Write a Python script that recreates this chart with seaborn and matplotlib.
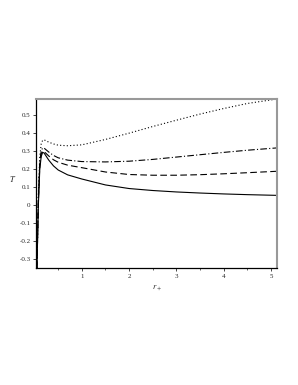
import numpy as np
import pandas as pd
import seaborn as sns
import matplotlib.pyplot as plt

# values
r_plus = [0.05, 0.08, 0.11, 0.14, 0.17, 0.2, 0.3, 0.4, 0.5, 0.7, 1.0, 1.5, 2.0, 2.5, 3.0, 3.5, 4.0, 4.5, 5.13]
T_solid = [-0.35, 0.0, 0.2, 0.27, 0.293, 0.29, 0.25, 0.218, 0.195, 0.168, 0.145, 0.112, 0.092, 0.081, 0.073, 0.067, 0.062, 0.058, 0.054]
T_dash = [-0.35, 0.02, 0.22, 0.285, 0.3, 0.298, 0.273, 0.252, 0.238, 0.222, 0.208, 0.184, 0.17, 0.166, 0.166, 0.169, 0.174, 0.18, 0.188]
T_dashdot = [-0.35, 0.04, 0.24, 0.3, 0.318, 0.317, 0.295, 0.276, 0.263, 0.25, 0.242, 0.24, 0.244, 0.254, 0.267, 0.28, 0.293, 0.305, 0.318]
T_dot = [-0.35, 0.06, 0.27, 0.34, 0.36, 0.363, 0.35, 0.34, 0.333, 0.33, 0.335, 0.365, 0.4, 0.437, 0.472, 0.506, 0.537, 0.565, 0.59]

sns.set_theme(style="ticks")
plt.rcParams['font.family'] = ['Liberation Serif', 'DejaVu Serif']
plt.rcParams['mathtext.fontset'] = 'stix'

df = pd.DataFrame({"r": r_plus, "solid": T_solid, "dash": T_dash,
                   "dashdot": T_dashdot, "dot": T_dot})

fig = plt.figure(figsize=(2.98, 3.85), dpi=100)
ax = fig.add_axes([36/298, 1-268/385, 241/298, 169/385])

sns.lineplot(data=df, x="r", y="solid", ax=ax, color="black", lw=0.8)
sns.lineplot(data=df, x="r", y="dash", ax=ax, color="black", lw=0.8, linestyle=(0, (6, 3)))
sns.lineplot(data=df, x="r", y="dashdot", ax=ax, color="black", lw=0.8, linestyle=(0, (6, 2, 1, 2)))
sns.lineplot(data=df, x="r", y="dot", ax=ax, color="black", lw=0.8, linestyle=(0, (1, 2)))

ax.set_xlim(0.03, 5.13)
ax.set_ylim(-0.35, 0.59)
ax.set_xticks([1, 2, 3, 4, 5])
ax.set_xticks([0.5, 1.5, 2.5, 3.5, 4.5], minor=True)
ax.set_yticks([-0.3, -0.2, -0.1, 0, 0.1, 0.2, 0.3, 0.4, 0.5])
ax.set_yticklabels(["-0.3", "-0.2", "-0.1", "0", "0.1", "0.2", "0.3", "0.4", "0.5"])
ax.tick_params(labelsize=5, length=2, width=0.6, pad=2)
ax.tick_params(which="minor", length=1.5, width=0.5)

for s in ["left", "bottom"]:
    ax.spines[s].set_linewidth(0.9)
    ax.spines[s].set_color("black")
for s in ["top", "right"]:
    ax.spines[s].set_linewidth(1.5)
    ax.spines[s].set_color("#999999")

ax.set_xlabel(r"$r_+$", fontsize=6, labelpad=3)
ax.set_ylabel(r"$T$", fontsize=6, rotation=0, labelpad=5)

fig.savefig("out.png", dpi=100)
